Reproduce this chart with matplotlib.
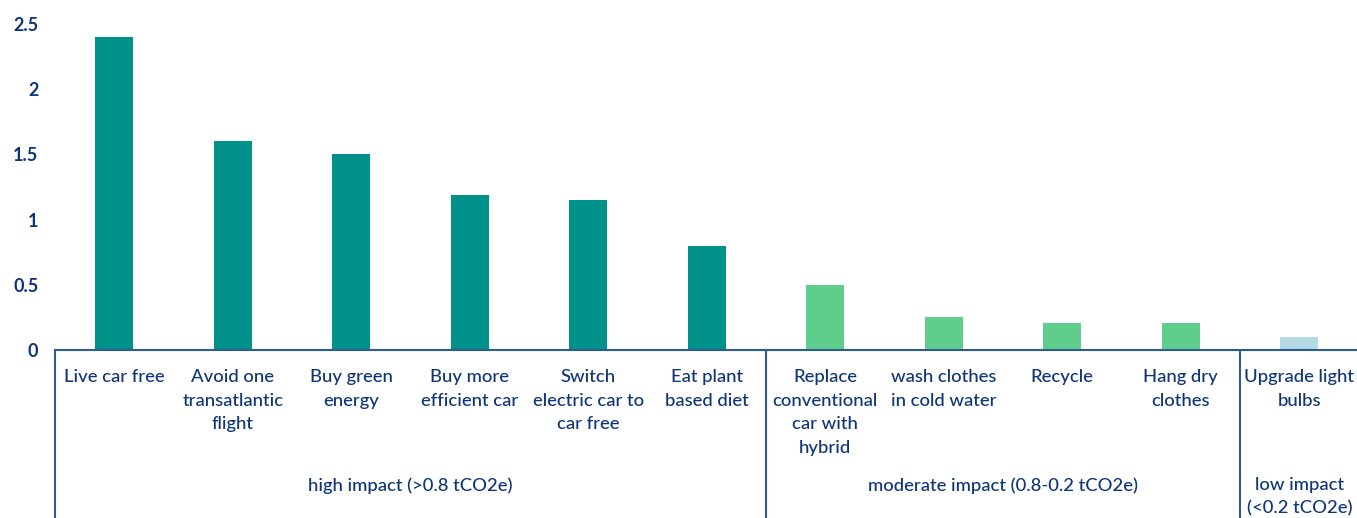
import matplotlib
matplotlib.use("Agg")
import matplotlib.pyplot as plt
from matplotlib.transforms import blended_transform_factory

categories = ["Live car free", "Avoid one\ntransatlantic\nflight", "Buy green\nenergy",
              "Buy more\nefficient car", "Switch\nelectric car to\ncar free", "Eat plant\nbased diet",
              "Replace\nconventional\ncar with\nhybrid", "wash clothes\nin cold water", "Recycle",
              "Hang dry\nclothes", "Upgrade light\nbulbs"]
values = [2.4, 1.6, 1.5, 1.19, 1.15, 0.8, 0.5, 0.25, 0.21, 0.21, 0.1]
groups = [0, 0, 0, 0, 0, 0, 1, 1, 1, 1, 2]
group_labels = ["high impact (>0.8 tCO2e)", "moderate impact (0.8-0.2 tCO2e)", "low impact\n(<0.2 tCO2e)"]
group_colors = ["#00918b", "#5fcd8b", "#b5dae5"]
yticks = [0, 0.5, 1, 1.5, 2, 2.5]
ytick_labels = ["0", "0.5", "1", "1.5", "2", "2.5"]

TEXT = "#0e3577"
LINE = "#2d5b98"
plt.rcParams['font.family'] = ['Lato', 'DejaVu Sans']
FS = 13.3
LS = 1.58

W, H = 1357, 518
fig = plt.figure(figsize=(W / 100, H / 100), dpi=100)
ax_left, ax_right = 55, 1357 + 1.5
ax_bottom, ax_top = 350, 24
ax = fig.add_axes([ax_left / W, (H - ax_bottom) / H, (ax_right - ax_left) / W, (ax_bottom - ax_top) / H])

x = list(range(len(categories)))
colors = [group_colors[g] for g in groups]
ax.bar(x, values, width=0.32, color=colors, zorder=2)
ax.set_xlim(-0.5, len(categories) - 0.5)
ax.set_ylim(0, 2.5)
ax.set_yticks(yticks)
ax.set_yticklabels(ytick_labels, fontsize=13, fontweight='bold', color=TEXT)
ax.tick_params(axis='y', length=0, pad=12)
ax.set_xticks([])
for s in ["top", "right", "left"]:
    ax.spines[s].set_visible(False)
ax.spines["bottom"].set_color(LINE)
ax.spines["bottom"].set_linewidth(1.5)

trans = blended_transform_factory(ax.transData, ax.transAxes)
px = 72 / 100  # points per pixel

# category labels
for i, lab in enumerate(categories):
    ax.annotate(lab, xy=(i, 0), xycoords=trans, xytext=(0, -19 * px), textcoords='offset points',
                ha='center', va='top', fontsize=FS, fontweight='medium', color=TEXT, linespacing=LS,
                annotation_clip=False)

# group separators and labels
bounds = []
for gi in range(len(group_labels)):
    idx = [i for i, g in enumerate(groups) if g == gi]
    bounds.append((idx[0] - 0.5, idx[-1] + 0.5))
for gi, (a, b) in enumerate(bounds):
    ax.annotate("", xy=(a, 0), xycoords=trans, xytext=(a, -170 * px), textcoords=('data', 'offset points'),
                arrowprops=dict(arrowstyle='-', color=LINE, lw=1.5, shrinkA=0, shrinkB=0), annotation_clip=False)
    lab = group_labels[gi]
    ax.annotate(lab, xy=((a + b) / 2, 0), xycoords=trans, xytext=(0, -127 * px), textcoords='offset points',
                ha='center', va='top', fontsize=FS, fontweight='medium', color=TEXT, linespacing=LS,
                annotation_clip=False)

fig.savefig("out.png", dpi=100)
